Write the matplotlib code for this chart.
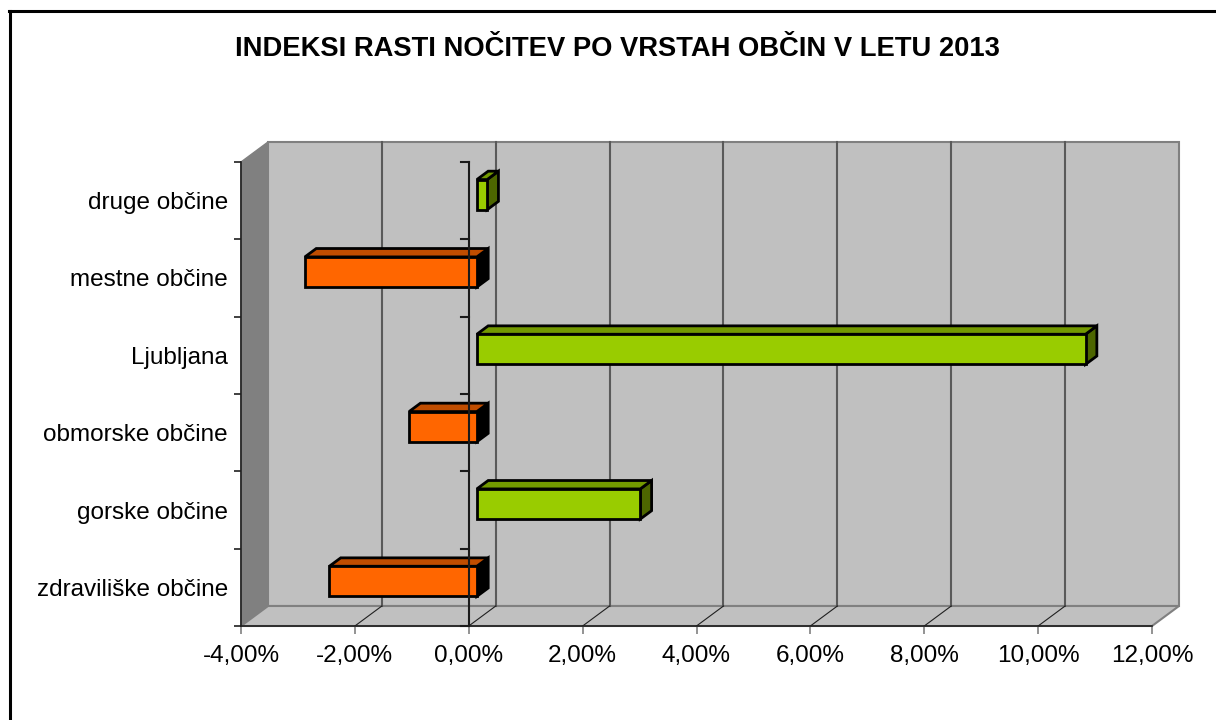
import matplotlib
matplotlib.use("Agg")
import matplotlib.pyplot as plt
from matplotlib.patches import Polygon
from matplotlib.lines import Line2D
import numpy as np

plt.rcParams['font.family'] = ['Liberation Sans', 'DejaVu Sans']
plt.rcParams['axes.unicode_minus'] = False

# ---- data (bottom to top) ----
categories = ["zdraviliške občine", "gorske občine", "obmorske občine",
              "Ljubljana", "mestne občine", "druge občine"]
values = [-2.59, 2.87, -1.19, 10.69, -3.02, 0.18]
xticks = [-4, -2, 0, 2, 4, 6, 8, 10, 12]
xticklabels = ["-4,00%", "-2,00%", "0,00%", "2,00%", "4,00%", "6,00%",
               "8,00%", "10,00%", "12,00%"]
title = "INDEKSI RASTI NOČITEV PO VRSTAH OBČIN V LETU 2013"

# ---- style ----
W, H = 1216, 720
DX = 27 / 56.94      # full depth offset in x data units
DY = 20 / 77.33      # full depth offset in category units
D0, D1 = 0.30, 0.72  # bar depth range
BAR_H = 0.39
pos_cols = ("#99CC00", "#739900", "#4D6600")   # front, top, side
neg_cols = ("#FF6600", "#C04D00", "#000000")

fig = plt.figure(figsize=(W / 100, H / 100), dpi=100)
ax = fig.add_axes([241 / W, (H - 626) / H, 911 / W, 464 / H])
ax.set_facecolor("none")
xmin, xmax = xticks[0], xticks[-1]
n = len(categories)
ymin, ymax = -0.5, n - 0.5
ax.set_xlim(xmin, xmax)
ax.set_ylim(ymin, ymax)


def P(x, y, d):
    return (x + d * DX, y + d * DY)


def poly(pts, fc, ec, lw=1.0, z=1):
    ax.add_patch(Polygon(pts, closed=True, facecolor=fc, edgecolor=ec,
                         linewidth=lw, clip_on=False, zorder=z,
                         joinstyle="miter"))


# walls
poly([P(xmin, ymin, 1), P(xmax, ymin, 1), P(xmax, ymax, 1), P(xmin, ymax, 1)],
     "#C0C0C0", "#808080", 1.5, 0.5)
poly([P(xmin, ymin, 0), P(xmin, ymin, 1), P(xmin, ymax, 1), P(xmin, ymax, 0)],
     "#808080", "#808080", 1.0, 0.6)
poly([P(xmin, ymin, 0), P(xmax, ymin, 0), P(xmax, ymin, 1), P(xmin, ymin, 1)],
     "#C0C0C0", "#808080", 1.5, 0.6)

# gridlines on back wall and floor
for t in xticks[1:-1]:
    a, b = P(t, ymin, 1), P(t, ymax, 1)
    ax.plot([a[0], b[0]], [a[1], b[1]], color="#5A5A5A", lw=1.5,
            clip_on=False, zorder=0.8)
    c = P(t, ymin, 0)
    ax.plot([c[0], a[0]], [c[1], a[1]], color="#202020", lw=0.8,
            clip_on=False, zorder=0.8)

# bars
for i, v in enumerate(values):
    fc, tc, sc = pos_cols if v >= 0 else neg_cols
    x0, x1 = min(0, v), max(0, v)
    yb, yt = i - BAR_H / 2, i + BAR_H / 2
    poly([P(x1, yb, D0), P(x1, yt, D0), P(x1, yt, D1), P(x1, yb, D1)],
         sc, "black", 2.0, 3)
    poly([P(x0, yt, D0), P(x1, yt, D0), P(x1, yt, D1), P(x0, yt, D1)],
         tc, "black", 2.0, 3)
    poly([P(x0, yb, D0), P(x1, yb, D0), P(x1, yt, D0), P(x0, yt, D0)],
         fc, "black", 2.0, 3.1)

# zero axis line on the front plane with ticks
ax.plot([0, 0], [ymin, ymax], color="#1A1A1A", lw=1.5, clip_on=False, zorder=4)
tick_len = 8 / 56.94
for b in np.arange(ymin, ymax + 0.01, 1.0):
    ax.plot([-tick_len, 0], [b, b], color="#1A1A1A", lw=1.5,
            clip_on=False, zorder=4)

# axes
for s in ("top", "right"):
    ax.spines[s].set_visible(False)
for s in ("left", "bottom"):
    ax.spines[s].set_color("#202020")
    ax.spines[s].set_linewidth(1.2)
    ax.spines[s].set_zorder(2)

ax.set_xticks(xticks)
ax.set_xticklabels(xticklabels, fontsize=17.5)
ax.tick_params(axis="x", direction="out", length=5.5, width=1.2,
               color="#808080", pad=8.5)
ax.set_yticks(range(n))
ax.set_yticklabels(categories, fontsize=17.5)
ax.tick_params(axis="y", which="major", length=0, pad=9.5)
ax.set_yticks(np.arange(ymin, ymax + 0.01, 1.0), minor=True)
ax.tick_params(axis="y", which="minor", direction="out", length=5,
               width=1.2, color="#202020")

# title
fig.text(617 / W, 1 - 49 / H, title, ha="center", va="center",
         fontsize=19.7, fontweight="bold")

# outer frame (only left and top visible)
fig.add_artist(Line2D([10 / W, 10 / W], [0, 1 - 10.5 / H], color="black",
                      lw=2.2, transform=fig.transFigure))
fig.add_artist(Line2D([9 / W, 1], [1 - 10.5 / H, 1 - 10.5 / H], color="black",
                      lw=2.2, transform=fig.transFigure))

fig.savefig("out.png", dpi=100)
